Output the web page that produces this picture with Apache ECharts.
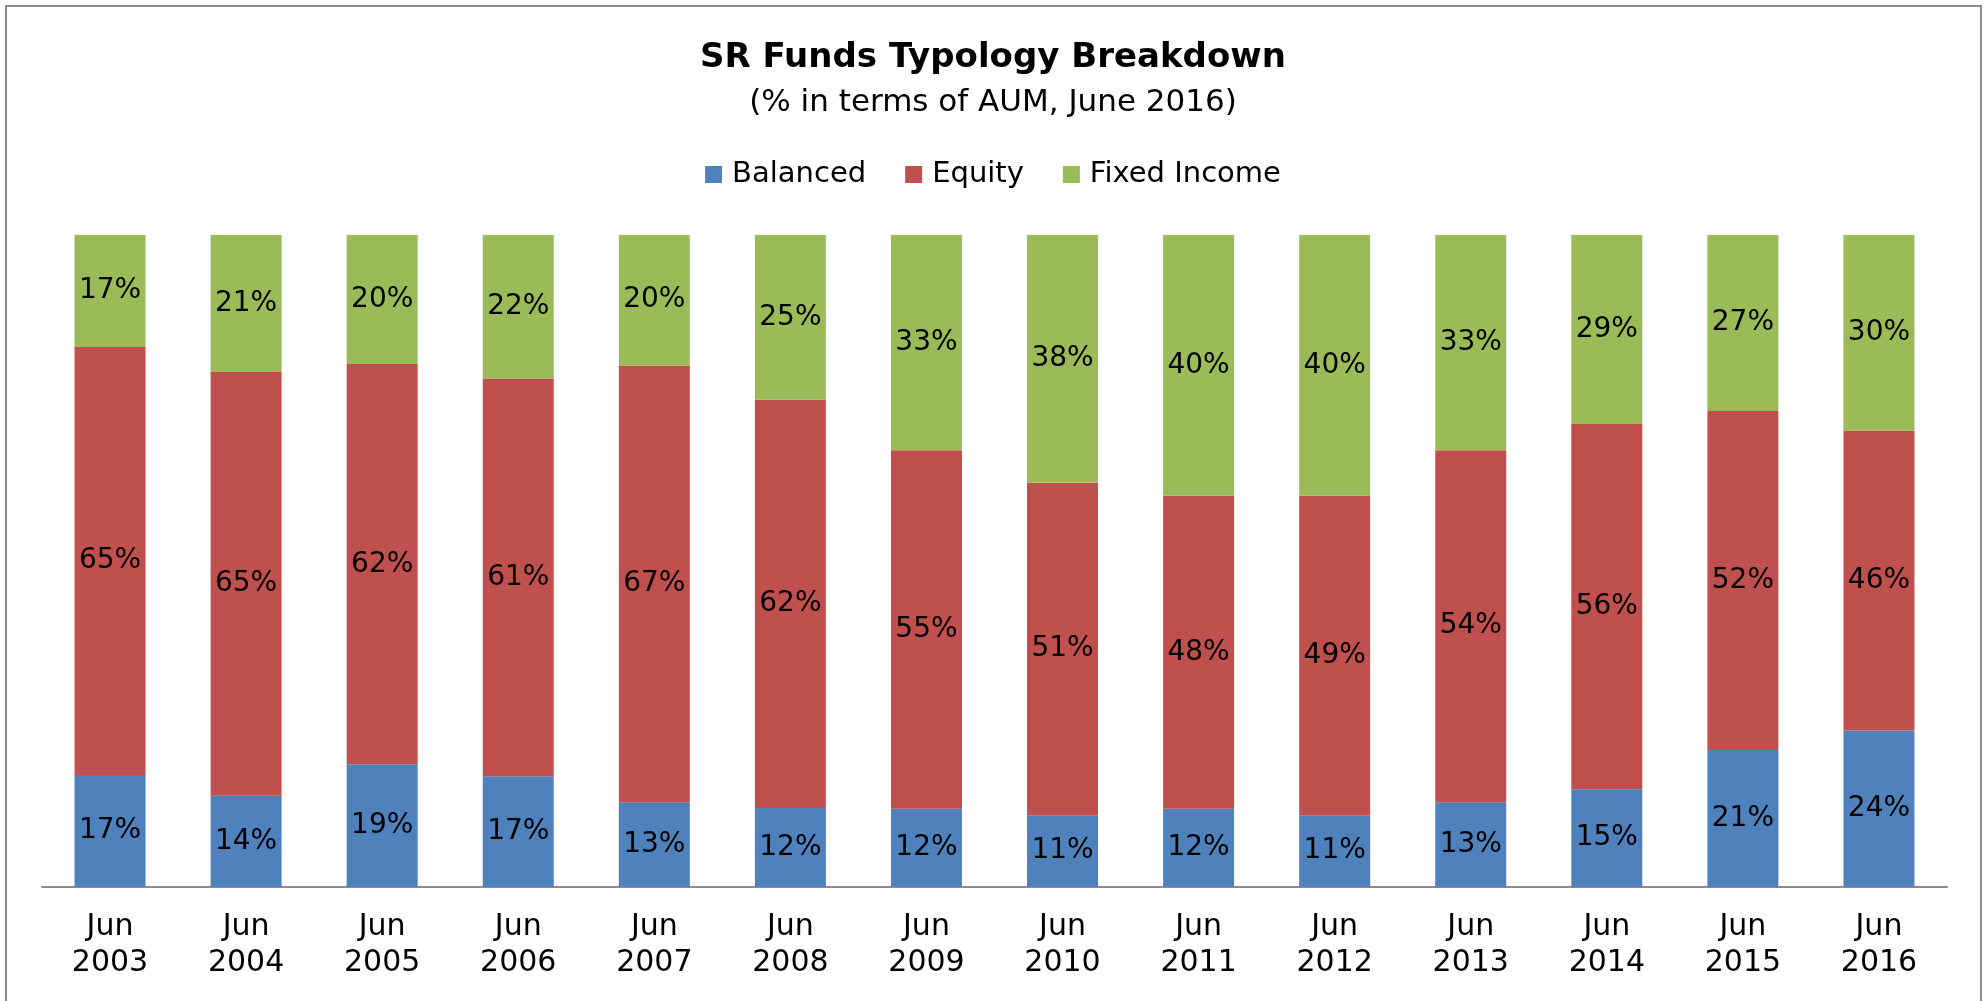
<!DOCTYPE html>
<html>
<head>
<meta charset="utf-8">
<script src="https://cdn.jsdelivr.net/npm/echarts@6/dist/echarts.min.js"></script>
<style>
html, body { margin: 0; padding: 0; background: #fff; }
#main { width: 1986px; height: 1001px; }
</style>
</head>
<body>
<div id="main"></div>
<script>
var years = ['Jun\n2003', 'Jun\n2004', 'Jun\n2005', 'Jun\n2006', 'Jun\n2007', 'Jun\n2008', 'Jun\n2009',
    'Jun\n2010', 'Jun\n2011', 'Jun\n2012', 'Jun\n2013', 'Jun\n2014', 'Jun\n2015', 'Jun\n2016'];
var balanced = [17, 14, 19, 17, 13, 12, 12, 11, 12, 11, 13, 15, 21, 24];
var equity = [65, 65, 62, 61, 67, 62, 55, 51, 48, 49, 54, 56, 52, 46];
var fixedIncome = [17, 21, 20, 22, 20, 25, 33, 38, 40, 40, 33, 29, 27, 30];

var font = 'DejaVu Sans';

// 100% stacked: every column is scaled to its own total, labels keep the read value
function share(arr) {
    return arr.map(function (v, i) {
        var total = balanced[i] + equity[i] + fixedIncome[i];
        return { value: v / total * 100, raw: v };
    });
}

function makeSeries(name, arr, color) {
    return {
        name: name,
        type: 'bar',
        stack: 'all',
        barWidth: 71,
        data: share(arr),
        itemStyle: { color: color },
        label: {
            show: true,
            position: 'inside',
            color: '#000',
            fontFamily: font,
            fontSize: 28,
            formatter: function (p) { return p.data.raw + '%'; }
        }
    };
}

var myChart = echarts.init(document.getElementById('main'));

var option = {
    backgroundColor: '#fff',
    animation: false,
    graphic: [{
        type: 'rect',
        shape: { x: 6, y: 6, width: 1975, height: 1010 },
        style: { fill: 'none', stroke: '#8c8c8c', lineWidth: 2 },
        silent: true
    }],
    title: {
        text: 'SR Funds Typology Breakdown',
        subtext: '(% in terms of AUM, June 2016)',
        left: 'center',
        top: 36,
        itemGap: 12,
        textStyle: { fontFamily: font, fontSize: 34, fontWeight: 'bold', color: '#000' },
        subtextStyle: { fontFamily: font, fontSize: 31, color: '#000' }
    },
    legend: {
        top: 155,
        left: 'center',
        itemWidth: 17,
        itemHeight: 17,
        itemGap: 39,
        icon: 'rect',
        textStyle: { fontFamily: font, fontSize: 29, color: '#000', padding: [0, 0, 0, 5] },
        data: ['Balanced', 'Equity', 'Fixed Income']
    },
    grid: {
        left: 42,
        right: 39,
        top: 235,
        bottom: 114
    },
    xAxis: {
        type: 'category',
        data: years,
        axisTick: { show: false },
        axisLine: { lineStyle: { color: '#8c8c8c', width: 2 } },
        axisLabel: {
            fontFamily: font,
            fontSize: 30,
            color: '#000',
            lineHeight: 36,
            margin: 22,
            interval: 0
        }
    },
    yAxis: {
        type: 'value',
        min: 0,
        max: 100,
        show: false,
        splitLine: { show: false }
    },
    series: [
        makeSeries('Balanced', balanced, '#4F81BD'),
        makeSeries('Equity', equity, '#C0504D'),
        makeSeries('Fixed Income', fixedIncome, '#9BBB59')
    ]
};

myChart.setOption(option);
</script>
</body>
</html>
